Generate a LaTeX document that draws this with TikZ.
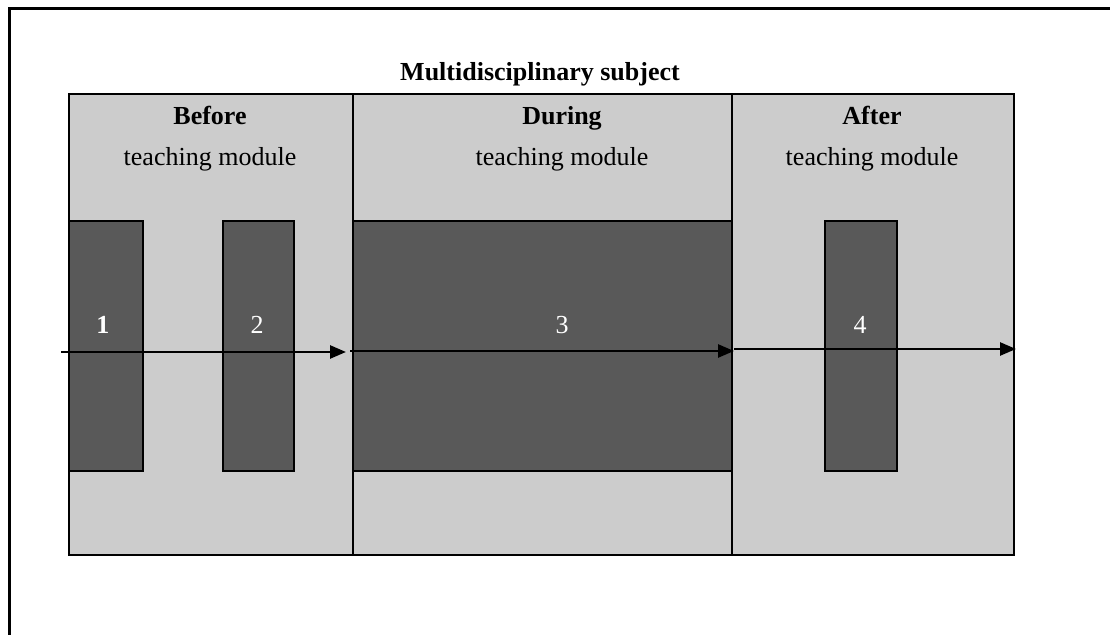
\documentclass[tikz,border=0pt]{standalone}
\usepackage{fontspec}
\setmainfont{Liberation Serif}
\usetikzlibrary{arrows.meta}
\definecolor{lightpanel}{HTML}{CCCCCC}
\definecolor{darkbox}{HTML}{595959}
\begin{document}
\begin{tikzpicture}[x={(0.5pt,0)},y={(0,-0.5pt)},
  panel/.style={draw=black,line width=1pt,fill=lightpanel,anchor=north west,inner sep=0,minimum height=230.5pt},
  darkblk/.style={draw=black,line width=1pt,fill=darkbox,anchor=north west,inner sep=0,minimum height=125pt},
  lbl/.style={font=\fontsize{13}{15}\selectfont,inner sep=0,anchor=base},
  blbl/.style={font=\fontsize{13}{15}\selectfont\bfseries,inner sep=0,anchor=base},
  num/.style={font=\fontsize{13}{15}\selectfont,text=white,inner sep=0,anchor=base},
  flow/.style={line width=1.3pt,-{Triangle[length=8pt,width=6.5pt]}}]
\useasboundingbox (0,0) rectangle (1110,635);
% outer frame (only top and left visible)
\draw[line width=1.5pt] (9,640) -- (9,9) -- (1115,9);
% panels
\node[panel,minimum width=142pt] (p1) at (68,93) {};
\node[panel,minimum width=189.5pt] (p2) at (352,93) {};
\node[panel,minimum width=141pt] (p3) at (731,93) {};
% dark blocks
\node[darkblk,minimum width=37pt] (b1) at (68,220) {};
\node[darkblk,minimum width=35.5pt] (b2) at (222,220) {};
\node[darkblk,minimum width=189.5pt] (b3) at (352,220) {};
\node[darkblk,minimum width=36pt] (b4) at (824,220) {};
% texts
\node[blbl] (title) at (540,81) {Multidisciplinary subject};
\node[blbl] (t1a) at (210,125) {Before};
\node[lbl] (t1b) at (210,166) {teaching module};
\node[blbl] (t2a) at (562,125) {During};
\node[lbl] (t2b) at (562,166) {teaching module};
\node[blbl] (t3a) at (872,125) {After};
\node[lbl] (t3b) at (872,166) {teaching module};
\node[num,font=\fontsize{13}{15}\selectfont\bfseries] (n1) at (103,334) {1};
\node[num] (n2) at (257,334) {2};
\node[num] (n3) at (562,334) {3};
\node[num] (n4) at (860,334) {4};
% arrows
\coordinate (a0) at (61,352);
\coordinate (a1) at (346,352);
\coordinate (a2s) at (350,351);
\coordinate (a2) at (734,351);
\coordinate (a3s) at (734,349);
\coordinate (a3) at (1016,349);
\draw[flow] (a0) -- (a1);
\draw[flow] (a2s) -- (a2);
\draw[flow] (a3s) -- (a3);
\end{tikzpicture}
\end{document}
